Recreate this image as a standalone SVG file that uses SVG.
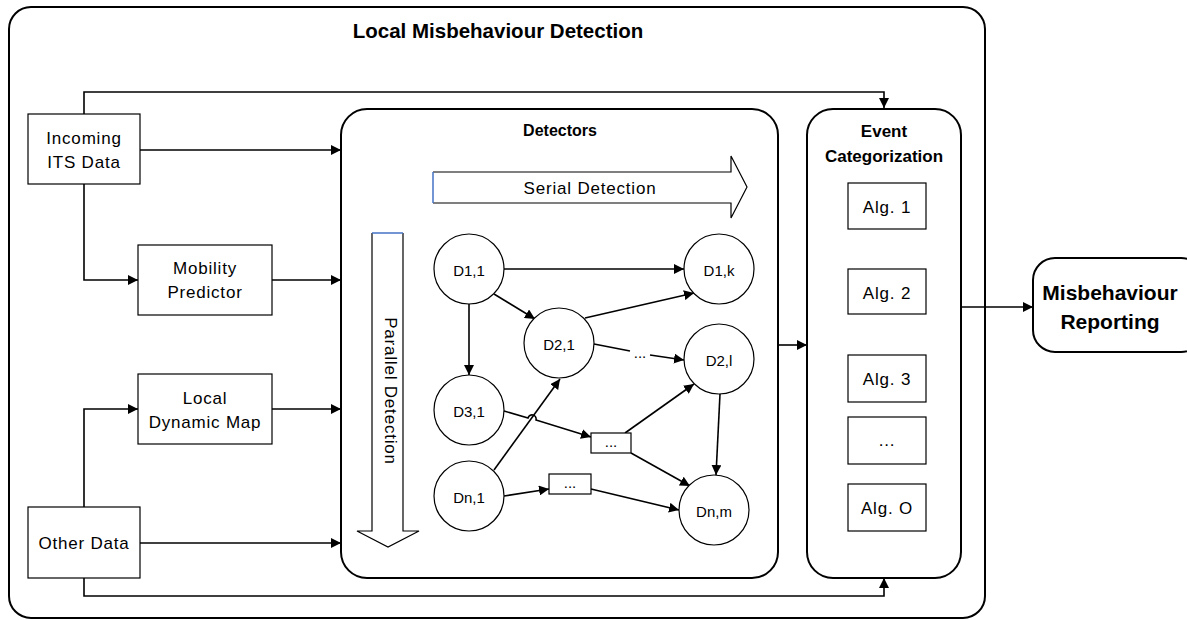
<svg xmlns="http://www.w3.org/2000/svg" width="1187" height="620" viewBox="0 0 1187 620">
<defs>
<marker id="ah" viewBox="0 0 10 10" refX="10" refY="5" markerWidth="10" markerHeight="10" markerUnits="userSpaceOnUse" orient="auto">
<path d="M0,0 L10,5 L0,10 z" fill="#000"/>
</marker>
<style>
text{font-family:"Liberation Sans",Arial,sans-serif;fill:#000;text-anchor:middle;dominant-baseline:central}
.t{font-size:17px;letter-spacing:0.8px}
.b{font-weight:bold}
.s{font-size:15px}
.box{fill:#fff;stroke:#000;stroke-width:1.2}
.rbox{fill:#fff;stroke:#000;stroke-width:2}
.c{fill:#fff;stroke:#000;stroke-width:1.2}
.ln{fill:none;stroke:#000;stroke-width:1.6}
.la{fill:none;stroke:#000;stroke-width:1.6;marker-end:url(#ah)}
</style>
</defs>
<rect width="1187" height="620" fill="#fff"/>

<g id="outer">
<rect x="9" y="7" width="976" height="611" rx="22" class="rbox"/>
<text x="498" y="30" class="b" font-size="20.5">Local Misbehaviour Detection</text>
</g>

<g id="connectors">
<polyline points="84,114 84,92 884,92 884,108" class="la"/>
<line x1="140" y1="150" x2="341" y2="150" class="la"/>
<polyline points="84,184 84,280 138,280" class="la"/>
<line x1="272" y1="280" x2="341" y2="280" class="la"/>
<polyline points="84,507 84,409 138,409" class="la"/>
<line x1="272" y1="409" x2="341" y2="409" class="la"/>
<line x1="140" y1="543" x2="341" y2="543" class="la"/>
<polyline points="84,578 84,596 884,596 884,578" class="la"/>
<line x1="778" y1="345" x2="807" y2="345" class="la"/>
<line x1="961" y1="307" x2="1033" y2="307" class="la"/>
</g>

<g id="incoming">
<rect x="28" y="114" width="112" height="70" class="box"/>
<text x="84" y="138" class="t">Incoming</text>
<text x="84" y="162" class="t">ITS Data</text>
</g>
<g id="mobility">
<rect x="138" y="245" width="134" height="70" class="box"/>
<text x="205" y="268" class="t">Mobility</text>
<text x="205" y="292" class="t">Predictor</text>
</g>
<g id="ldm">
<rect x="138" y="374" width="134" height="70" class="box"/>
<text x="205" y="398" class="t">Local</text>
<text x="205" y="422" class="t">Dynamic Map</text>
</g>
<g id="other">
<rect x="28" y="507" width="112" height="71" class="box"/>
<text x="84" y="543" class="t">Other Data</text>
</g>

<g id="detectors">
<rect x="341" y="109" width="437" height="469" rx="26" class="rbox"/>
<text x="560" y="130" class="b" font-size="16">Detectors</text>
<path d="M433,172 L731,172 L731,156 L747,187 L731,218 L731,203 L433,203" fill="#fff" stroke="#000" stroke-width="1.2"/>
<line x1="433" y1="172" x2="433" y2="203" stroke="#4472C4" stroke-width="1.5"/>
<text x="590" y="188" class="t">Serial Detection</text>
<path d="M372,233 L372,531 L357,531 L388,547 L419,531 L403,531 L403,233" fill="#fff" stroke="#000" stroke-width="1.2"/>
<line x1="372" y1="233" x2="403" y2="233" stroke="#4472C4" stroke-width="1.5"/>
<text x="390" y="391" class="t" transform="rotate(90 390 391)">Parallel Detection</text>
</g>

<g id="det-edges">
<line x1="504" y1="269" x2="684" y2="269" class="la"/>
<line x1="494" y1="294" x2="535" y2="319" class="la"/>
<line x1="469" y1="304" x2="469" y2="375" class="la"/>
<line x1="585" y1="318" x2="694" y2="293" class="la"/>
<line x1="594" y1="344" x2="630" y2="351" class="ln"/>
<text x="640" y="352" class="s">...</text>
<line x1="650" y1="355" x2="684" y2="360" class="la"/>
<path d="M504,411 L528,418 A4,4 0 0 1 536,420 L591,437" class="la"/>
<line x1="494" y1="470" x2="560" y2="379" class="la"/>
<line x1="625" y1="433" x2="694" y2="384" class="la"/>
<line x1="631" y1="453" x2="690" y2="486" class="la"/>
<line x1="720" y1="394" x2="716" y2="475" class="la"/>
<line x1="504" y1="496" x2="549" y2="489" class="la"/>
<line x1="591" y1="489" x2="679" y2="510" class="la"/>
</g>

<g id="d11"><circle cx="469" cy="269" r="35" class="c"/><text x="469" y="270" class="s">D1,1</text></g>
<g id="d1k"><circle cx="719" cy="269" r="35" class="c"/><text x="719" y="270" class="s">D1,k</text></g>
<g id="d21"><circle cx="559" cy="343" r="35" class="c"/><text x="559" y="344" class="s">D2,1</text></g>
<g id="d2l"><circle cx="719" cy="359" r="35" class="c"/><text x="719" y="360" class="s">D2,l</text></g>
<g id="d31"><circle cx="469" cy="410" r="35" class="c"/><text x="469" y="411" class="s">D3,1</text></g>
<g id="dn1"><circle cx="469" cy="496" r="35" class="c"/><text x="469" y="497" class="s">Dn,1</text></g>
<g id="dnm"><circle cx="714" cy="510" r="35" class="c"/><text x="714" y="511" class="s">Dn,m</text></g>
<g id="dots1"><rect x="591" y="433" width="40" height="20" class="box"/><text x="611" y="441" class="s">...</text></g>
<g id="dots2"><rect x="549" y="474" width="42" height="20" class="box"/><text x="570" y="482" class="s">...</text></g>

<g id="eventcat">
<rect x="807" y="109" width="154" height="469" rx="26" class="rbox"/>
<text x="884" y="131" class="b" font-size="17">Event</text>
<text x="884" y="156" class="b" font-size="17">Categorization</text>
</g>
<g id="alg1"><rect x="848" y="183" width="78" height="46" class="box"/><text x="887" y="207" class="t">Alg. 1</text></g>
<g id="alg2"><rect x="848" y="269" width="78" height="45" class="box"/><text x="887" y="293" class="t">Alg. 2</text></g>
<g id="alg3"><rect x="848" y="355" width="78" height="47" class="box"/><text x="887" y="379" class="t">Alg. 3</text></g>
<g id="algdots"><rect x="848" y="417" width="78" height="47" class="box"/><text x="887" y="440" class="t">...</text></g>
<g id="algO"><rect x="848" y="484" width="78" height="47" class="box"/><text x="887" y="508" class="t">Alg. O</text></g>

<g id="reporting">
<rect x="1033" y="258" width="170" height="94" rx="22" class="rbox"/>
<text x="1110" y="292" class="b" font-size="21">Misbehaviour</text>
<text x="1110" y="321" class="b" font-size="21">Reporting</text>
</g>
</svg>
